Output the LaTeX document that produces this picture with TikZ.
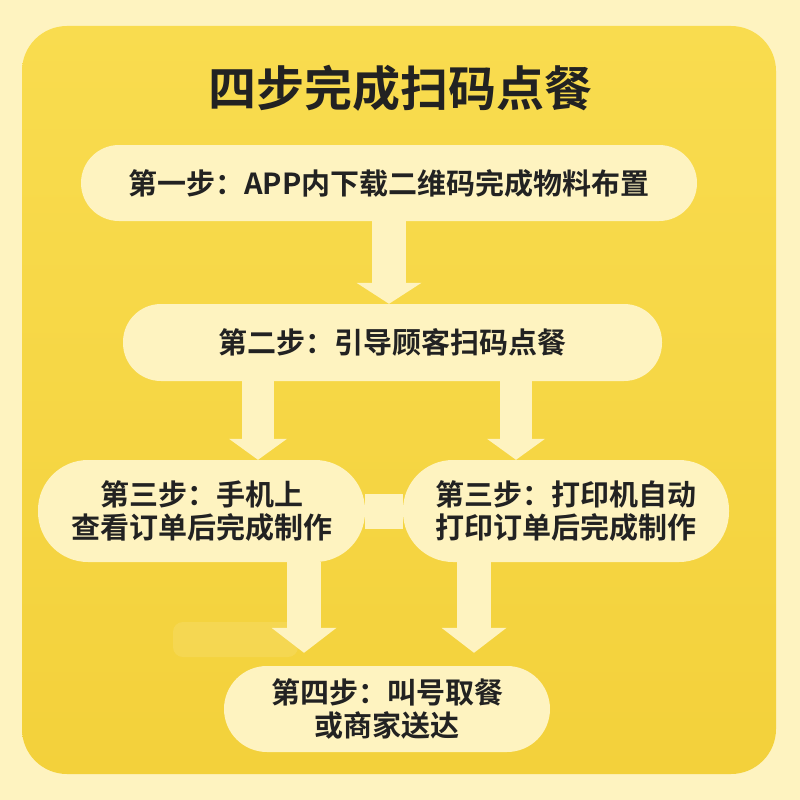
\documentclass[tikz,border=0pt]{standalone}
\usepackage{fontspec}
\newfontfamily\cjk{Noto Sans CJK SC}[BoldFont={* Bold}]
\usetikzlibrary{arrows.meta, positioning, calc}

\definecolor{cream}{HTML}{FEF3C0}
\definecolor{yellowtop}{HTML}{F9DC4F}
\definecolor{yellowbot}{HTML}{F3D13B}
\definecolor{ink}{HTML}{222222}

\begin{document}
\begin{tikzpicture}[
    x=1pt, y=-1pt,
    pill/.style={fill=cream, align=center, inner sep=0pt, text=ink,
        font=\cjk\bfseries\fontsize{29}{33}\selectfont},
    block/.style={draw=cream, line width=34pt,
        -{Triangle[length=21pt, width=65pt, line width=0pt]}},
    bar/.style={draw=cream, line width=35pt}
]
\useasboundingbox (0,0) rectangle (800,800);

% --- Background ---
\fill[cream] (0,0) rectangle (800,800);
\shade[top color=yellowtop, bottom color=yellowbot, rounded corners=45pt]
    (22,26) rectangle (776,774);
\fill[white, opacity=0.1, rounded corners=10pt] (173,622) rectangle (298,657);

% --- Title ---
\node[text=ink, font=\cjk\bfseries\fontsize{48}{56}\selectfont] (title) at (400,88) {四步完成扫码点餐};

% --- Steps ---
\node[pill, minimum width=616pt, minimum height=76pt, rounded corners=38pt] (step1) at (389,183)
    {第一步：APP内下载二维码完成物料布置};
\node[pill, minimum width=539pt, minimum height=77pt, rounded corners=38pt] (step2) at (392.5,342.5)
    {第二步：引导顾客扫码点餐};
\node[pill, minimum width=327pt, minimum height=102pt, rounded corners=50pt] (step3l) at (201.5,511)
    {第三步：手机上\\查看订单后完成制作};
\node[pill, minimum width=326pt, minimum height=102pt, rounded corners=50pt] (step3r) at (566,511)
    {第三步：打印机自动\\打印订单后完成制作};
\node[pill, minimum width=326pt, minimum height=86pt, rounded corners=43pt] (step4) at (387,709)
    {第四步：叫号取餐\\或商家送达};

% Arrow starts
\coordinate (a2l) at ($(step2.south)+(-134.5,0)$);
\coordinate (a2r) at ($(step2.south)+(123.5,0)$);
\coordinate (a3l) at ($(step3l.south)+(102.5,0)$);
\coordinate (a3r) at ($(step3r.south)+(-92,0)$);

% Arrows
\draw[block] (step1.south) -- (step1.south |- step2.north);
\draw[block, line width=32pt, -{Triangle[length=21pt, width=58pt, line width=0pt]}] (a2l) -- (a2l |- step3l.north);
\draw[block, line width=32pt, -{Triangle[length=21pt, width=58pt, line width=0pt]}] (a2r) -- (a2r |- step3r.north);
\draw[block, shorten >=13pt, -{Triangle[length=25pt, width=65pt, line width=0pt]}] (a3l) -- (a3l |- step4.north);
\draw[block, shorten >=13pt, -{Triangle[length=25pt, width=65pt, line width=0pt]}] (a3r) -- (a3r |- step4.north);

% Link between the two third steps
\draw[bar] (step3l.east) -- (step3r.west);

\end{tikzpicture}
\end{document}
